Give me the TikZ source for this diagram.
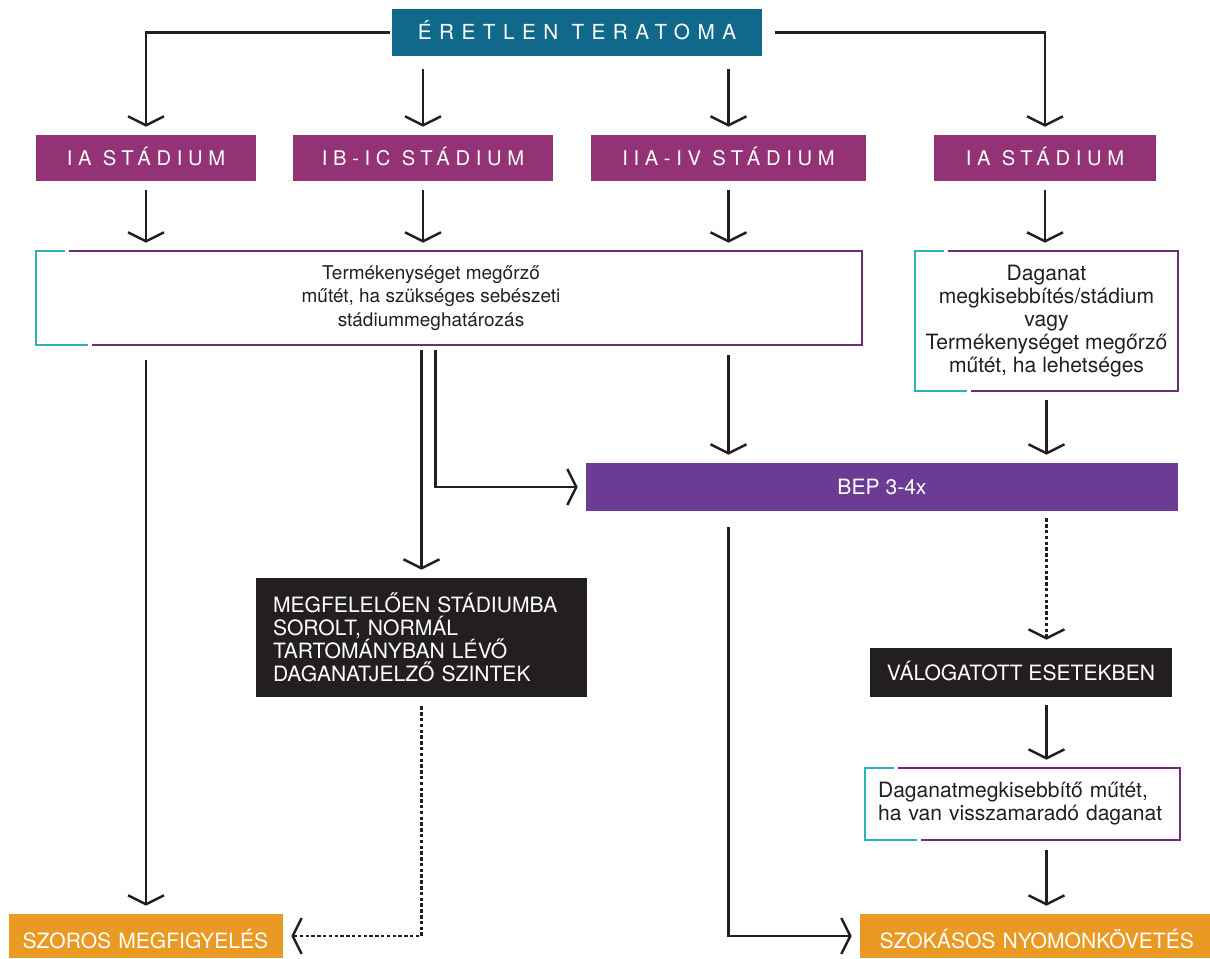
\documentclass[tikz,border=0pt]{standalone}
\usepackage{fontspec}
\setmainfont{TeX Gyre Heros}
\newfontfamily\spacedfont[LetterSpace=28]{TeX Gyre Heros}
\newfontfamily\widefont[LetterSpace=36]{TeX Gyre Heros}
\usetikzlibrary{arrows.meta}
\usetikzlibrary{calc}
\definecolor{mteal}{RGB}{16,104,138}
\definecolor{mplum}{RGB}{147,50,117}
\definecolor{mviolet}{RGB}{108,59,148}
\definecolor{morange}{RGB}{234,154,34}
\definecolor{mblack}{RGB}{35,31,32}
\definecolor{mcyan}{RGB}{43,179,184}
\definecolor{mpurple}{RGB}{110,45,120}

\newcommand{\splitframe}[1]{%
  \draw [mcyan, line width=1.2pt] ([xshift=0.58cm]#1.north west) -- (#1.north west)
    -- (#1.south west) -- ([xshift=1.04cm]#1.south west);
  \draw [mpurple, line width=1.2pt] ([xshift=0.66cm]#1.north west) -- (#1.north east)
    -- (#1.south east) -- ([xshift=1.12cm]#1.south west);}

\begin{document}
\begin{tikzpicture}[x=0.02cm, y=-0.02cm,
    box/.style={rectangle, inner sep=0pt, text=white},
    head/.style={box, fill=mteal, minimum width=7.4cm, minimum height=0.94cm,
      text height=8.5pt, text depth=0pt, font=\widefont\fontsize{11.8}{13}\selectfont},
    stage/.style={box, fill=mplum, minimum height=0.92cm,
      text height=8.3pt, text depth=0pt, font=\spacedfont\fontsize{11.5}{13}\selectfont},
    darkbox/.style={box, fill=mblack, font=\fontsize{12}{13}\selectfont},
    exit/.style={box, fill=morange, minimum height=0.88cm, align=left,
      text height=14pt, text depth=0pt, font=\fontsize{12}{13}\selectfont},
    plain/.style={rectangle, inner sep=0pt, text=mblack, font=\fontsize{12}{13}\selectfont},
    arr/.style={line width=1.4pt, draw=mblack, shorten >=0.16cm,
      -{Straight Barb[length=0.18cm, width=0.72cm, line width=1.4pt]}},
    dotarr/.style={arr, line width=1.2pt, dash pattern=on 2pt off 1.3pt}]
    \useasboundingbox (0, 0) rectangle (1210, 958);

    \node [head] (title) at (577, 32.5) {ÉRETLEN TERATOMA};

    \node [stage, minimum width=4.4cm] (ia) at (146, 158) {IA STÁDIUM};
    \node [stage, minimum width=5.2cm] (ibic) at (423, 158) {IB-IC STÁDIUM};
    \node [stage, minimum width=5.5cm] (iia) at (728.5, 158) {IIA-IV STÁDIUM};
    \node [stage, minimum width=4.44cm] (iar) at (1045, 158) {IA STÁDIUM};

    \node [plain, minimum width=16.52cm, minimum height=1.88cm] (surg) at (449, 298) {};
    \node [plain, align=center, font=\fontsize{10.8}{13.2}\selectfont] (surgtext) at (431, 298)
      {Termékenységet megőrző\\műtét, ha szükséges sebészeti\\stádiummeghatározás};
    \splitframe{surg}

    \node [plain, align=center, minimum width=5.26cm, minimum height=2.8cm] (right) at (1046.5, 321)
      {Daganat\\megkisebbítés/stádium\\vagy\\Termékenységet megőrző\\műtét, ha lehetséges};
    \splitframe{right}

    \node [box, fill=mviolet, minimum width=11.84cm, minimum height=0.96cm,
      text height=8.6pt, text depth=0pt, font=\fontsize{12}{13}\selectfont] (bep) at (882, 487) {BEP 3-4x};

    \node [darkbox, minimum width=6.62cm, minimum height=2.38cm, inner xsep=0.34cm,
      text width=5.94cm, align=left] (megf) at (421.5, 637.5)
      {MEGFELELŐEN STÁDIUMBA\\SOROLT, NORMÁL\\TARTOMÁNYBAN LÉVŐ\\DAGANATJELZŐ SZINTEK};
    \node [darkbox, minimum width=6.04cm, minimum height=0.98cm,
      text height=8.6pt, text depth=0pt] (valog) at (1021, 672.5) {VÁLOGATOTT ESETEKBEN};

    \node [plain, minimum width=6.3cm, minimum height=1.44cm, inner xsep=0.26cm,
      text width=5.78cm, align=left] (dag) at (1022.5, 804)
      {Daganatmegkisebbítő műtét,\\ha van visszamaradó daganat};
    \splitframe{dag}

    \node [exit, minimum width=5.48cm, inner xsep=0.27cm, text width=4.94cm] (szoros) at (146, 936)
      {SZOROS MEGFIGYELÉS};
    \node [exit, minimum width=7.1cm, inner xsep=0.39cm, text width=6.32cm] (szok) at (1037.5, 936)
      {SZOKÁSOS NYOMONKÖVETÉS};

    \draw [arr, shorten <=0.04cm] (title.west) -| (ia.north);
    \draw [arr, shorten <=0.26cm] (title.east) -| (iar.north);
    \draw [arr, shorten <=0.26cm] (title.south -| ibic.north) -- (ibic.north);
    \draw [arr, shorten <=0.26cm] (title.south -| iia.north) -- (iia.north);

    \foreach \s in {ia, ibic, iia}
      \draw [arr, shorten <=0.18cm] (\s.south) -- (\s.south |- surg.north);
    \draw [arr, shorten <=0.18cm] (iar.south) -- (iar.south |- right.north);

    \coordinate (split) at ($(surg.south -| megf.north)+(14, 0)$);
    \draw [arr, shorten <=0.3cm] (surg.south -| szoros.north) -- (szoros.north);
    \draw [arr, shorten <=0.1cm] (surg.south -| megf.north) -- (megf.north);
    \draw [arr, shorten <=0.1cm] (split) |- (bep.west);
    \draw [arr, shorten <=0.2cm] (surg.south -| iia.south) -- (iia.south |- bep.north);
    \draw [arr, shorten <=0.18cm] (right.south) -- (right.south |- bep.north);

    \draw [arr, shorten <=0.32cm] (bep.south -| iia.south) |- (szok.west);
    \draw [dotarr, shorten <=0.14cm] (bep.south -| right.south) -- (right.south |- valog.north);
    \draw [dotarr, shorten <=0.18cm] (megf.south) |- (szoros.east);
    \draw [arr, shorten <=0.16cm] (valog.south -| right.south) -- (right.south |- dag.north);
    \draw [arr, shorten <=0.2cm] (dag.south -| right.south) -- (right.south |- szok.north);
  \end{tikzpicture}
\end{document}
